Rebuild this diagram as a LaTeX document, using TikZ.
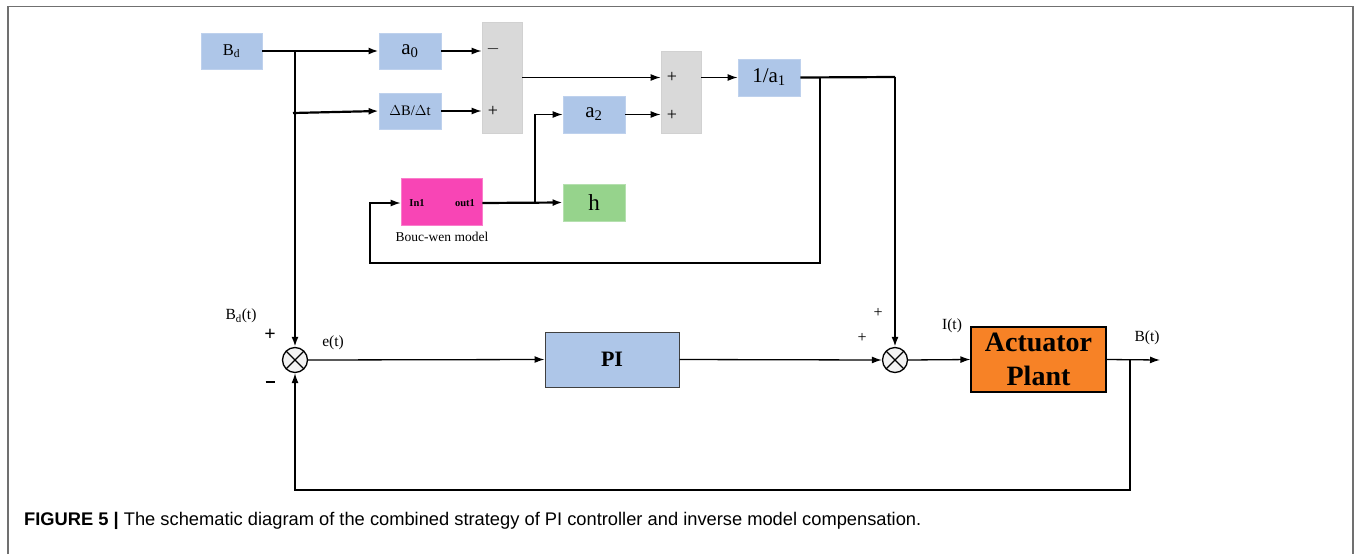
\documentclass[tikz,border=0pt]{standalone}
\usepackage{fontspec}
\setmainfont{Liberation Serif}
\newfontfamily\capfont{Liberation Sans}
\usetikzlibrary{arrows.meta}
\definecolor{bluefill}{HTML}{AEC6E8}
\definecolor{grayfill}{HTML}{D9D9D9}
\definecolor{pinkfill}{HTML}{F845B5}
\definecolor{greenfill}{HTML}{96D38C}
\definecolor{orangefill}{HTML}{F78226}
\definecolor{framegray}{HTML}{707070}
\tikzset{
  bbox/.style={fill=bluefill, draw=bluefill!80!white, line width=0.8pt, inner sep=0pt},
  gbox/.style={fill=grayfill, draw=black!18, line width=0.8pt, inner sep=0pt},
  thin/.style={line width=1.3pt},
  thk/.style={line width=2.2pt},
  arr/.style={-{Latex[length=10pt,width=7pt]}},
  sumc/.style={circle, draw, line width=1.3pt, fill=black!5, minimum size=25pt, inner sep=0pt,
    path picture={\draw[line width=1.3pt]
      (path picture bounding box.north west)--(path picture bounding box.south east)
      (path picture bounding box.north east)--(path picture bounding box.south west);}},
  lbl/.style={inner sep=0pt, font=\fontsize{15.5}{18}\selectfont},
}
\begin{document}
\begin{tikzpicture}[x=1pt,y=-1pt]
\useasboundingbox (0,0) rectangle (1356,554);
% frame
\draw[framegray, line width=1.5pt] (8,554) -- (8,6.5) -- (1353,6.5) -- (1353,554);

% blocks
\node[bbox, minimum width=61pt, minimum height=36pt, font=\fontsize{16.5}{18}\selectfont] (Bd) at (231.5,51) {B\textsubscript{d}};
\node[bbox, minimum width=62pt, minimum height=36pt, font=\fontsize{21}{22}\selectfont] (a0) at (410,51) {a\textsubscript{0}};
\node[bbox, minimum width=62pt, minimum height=36pt, font=\fontsize{14.5}{16}\selectfont] (dB) at (410,111) {$\Delta$B/$\Delta$t};
\node[gbox, minimum width=40pt, minimum height=111pt] (S1) at (502,77.5) {};
\node[gbox, minimum width=40pt, minimum height=82pt] (S2) at (681,92) {};
\node[bbox, minimum width=62pt, minimum height=37pt, font=\fontsize{21}{22}\selectfont] (inv) at (769,77.5) {1/a\textsubscript{1}};
\node[bbox, minimum width=62pt, minimum height=37pt, font=\fontsize{21}{22}\selectfont] (a2) at (594,114.5) {a\textsubscript{2}};
\node[fill=pinkfill, draw=pinkfill!70!white, line width=0.8pt, minimum width=81pt, minimum height=47pt, inner sep=0pt] (bw) at (441.5,201.5) {};
\node[inner sep=0pt, font=\bfseries\fontsize{10.5}{12}\selectfont] (bwin) at (417,203) {In1};
\node[inner sep=0pt, font=\bfseries\fontsize{10.5}{12}\selectfont] (bwout) at (465,203) {out1};
\node[inner sep=0pt, font=\fontsize{13.5}{15}\selectfont] (bwlbl) at (442,237) {Bouc-wen model};
\node[fill=greenfill, draw=greenfill!70!white, line width=0.8pt, minimum width=62pt, minimum height=37pt, inner sep=0pt, font=\fontsize{23}{24}\selectfont] (h) at (594,202.5) {h};

\node[sumc] (C1) at (295,360) {};
\node[fill=bluefill, draw=black!75, line width=1pt, minimum width=134pt, minimum height=55pt, inner sep=0pt, font=\bfseries\fontsize{22}{24}\selectfont] (PI) at (612,359.5) {PI};
\node[sumc] (C2) at (895,360) {};
\node[fill=orangefill, draw=black, line width=1.2pt, minimum width=135pt, minimum height=65pt, inner sep=0pt, align=center, font=\bfseries\fontsize{28}{34}\selectfont] (AP) at (1038.5,359.5) {Actuator\\Plant};

% sum signs
\node[lbl, font=\fontsize{18}{18}\selectfont] (s1m) at (493,49) {$-$};
\node[lbl, font=\fontsize{18}{18}\selectfont] (s1p) at (493,111) {+};
\node[lbl, font=\fontsize{18}{18}\selectfont] (s2p1) at (672,77) {+};
\node[lbl, font=\fontsize{18}{18}\selectfont] (s2p2) at (672,115) {+};

% labels around circles
\node[lbl] (lBd) at (241,316) {B\textsubscript{d}(t)};
\node[lbl, font=\bfseries\fontsize{20}{20}\selectfont] (lp1) at (270,335) {+};
\node[lbl] (lm1) at (270,382) {\rule{9pt}{2.2pt}};
\node[lbl] (le) at (333,343) {e(t)};
\node[lbl, font=\fontsize{16}{16}\selectfont] (lp2) at (878,313) {+};
\node[lbl, font=\fontsize{16}{16}\selectfont] (lp3) at (862,338) {+};
\node[lbl] (lI) at (952,326) {I(t)};
\node[lbl] (lB) at (1147,338) {B(t)};

% coordinates
\coordinate (j1) at (295,51);
\coordinate (j2) at (293,113);
\coordinate (j3) at (895,77);
\coordinate (j4) at (820,77);
\coordinate (j5) at (535,203);
\coordinate (j6) at (1130,360);
\coordinate (out) at (1160,360);

% connectors
\draw[thk, arr] (Bd.east) -- (a0.west);
\draw[thk, arr] (j1) -- (C1.north);
\draw[thk, arr] (j2) -- (dB.west);
\draw[thin, arr] (a0.east) -- (S1.west |- a0.east);
\draw[thin, arr] (dB.east) -- (S1.west |- dB.east);
\draw[thin, arr] (S1.east) -- (S2.west |- S1.east);
\draw[thin, arr] (a2.east) -- (S2.west |- a2.east);
\draw[thin, arr] (S2.east |- inv.west) -- (inv.west);
\draw[thk] (inv.east) -- (j3);
\draw[thk, arr] (j3) -- (C2.north);
\draw[thin, arr] (j4) -- (820,263) -- (370,263) -- (370,203) -- (bw.west |- bwin);
\draw[thk, arr] (bw.east |- bwout) -- (h.west);
\draw[thin, arr] (j5) |- (a2.west);
\draw[thin, arr] (C1.east) -- (PI.west);
\draw[thin, arr] (PI.east) -- (C2.west);
\draw[thin, arr] (C2.east) -- (AP.west);
\draw[thin, arr] (AP.east) -- (out);
\draw[thin, arr] (j6) -- (1130,490) -- (C1.south |- 0,490) -- (C1.south);

% caption
\node[anchor=base west, inner sep=0pt, font=\capfont\fontsize{18.3}{20}\selectfont] (cap) at (24,525) {\textbf{FIGURE 5 |} The schematic diagram of the combined strategy of PI controller and inverse model compensation.};
\end{tikzpicture}
\end{document}
